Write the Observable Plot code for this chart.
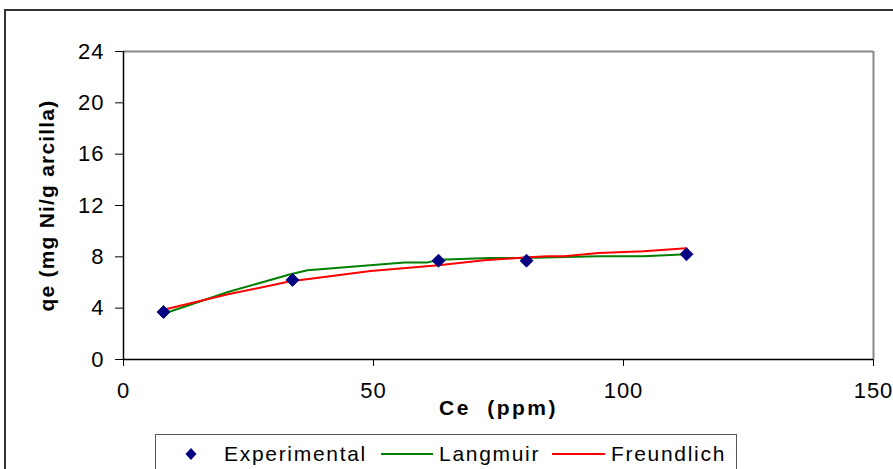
<!DOCTYPE html>
<html>
<head>
<meta charset="utf-8">
<script src="https://cdn.jsdelivr.net/npm/d3@7"></script>
<script src="https://cdn.jsdelivr.net/npm/@observablehq/plot@0.6"></script>
<style>
  html, body { margin: 0; padding: 0; background: #fff; }
  body { width: 893px; height: 469px; overflow: hidden; font-family: "Liberation Sans", Arial, sans-serif; }
  #wrap { position: relative; width: 893px; height: 469px; }
  #frame { position: absolute; left: 4px; top: 9px; width: 900px; height: 480px; border-top: 2px solid #333; border-left: 2px solid #333; }
  #chart { position: absolute; left: 0; top: 0; }
  #chart svg { font-family: "Liberation Sans", Arial, sans-serif; }
  g[aria-label="x-axis tick label"], g[aria-label="y-axis tick label"] { font-size: 22px !important; letter-spacing: 1px; }
  g[aria-label="x-axis tick label"] text, g[aria-label="y-axis tick label"] text { font-size: 22px !important; }
  g[aria-label="x-axis label"] text { font-weight: bold; font-size: 21px !important; letter-spacing: 2.5px; word-spacing: 8px; }
  g[aria-label="y-axis label"] text { font-weight: bold; font-size: 21px !important; letter-spacing: 1.2px; }
  #legend { position: absolute; left: 155px; top: 434px; width: 580px; height: 50px; border: 1px solid #555; background: #fff; }
  .lg { position: absolute; font-size: 21px; letter-spacing: 1.7px; color: #000; top: 7px; line-height: 24px; white-space: nowrap; }
  .sw { position: absolute; top: 18px; height: 2px; }
</style>
</head>
<body>
<div id="wrap">
  <div id="frame"></div>
  <div id="chart"></div>
  <div id="legend">
    <svg style="position:absolute;left:28px;top:12px" width="14" height="14"><path d="M7,1 L12.5,7 L7,13 L1.5,7 Z" fill="#000080"/></svg>
    <span class="lg" style="left:68px">Experimental</span>
    <div class="sw" style="left:225px;width:52px;background:#008000"></div>
    <span class="lg" style="left:283px">Langmuir</span>
    <div class="sw" style="left:396px;width:53px;background:#ff0000"></div>
    <span class="lg" style="left:455px">Freundlich</span>
  </div>
</div>
<script>
// Experimental data
const expCe = [8, 33.8, 63, 80.6, 112.6];
const expQe = [3.7, 6.2, 7.7, 7.7, 8.2];

// Langmuir model curve
const langCe = [8, 20.9, 33.4, 36.8, 56.2, 60.7, 63, 73.3, 80.1, 95, 104, 112.6];
const langQe = [3.57, 5.26, 6.64, 6.95, 7.55, 7.55, 7.78, 7.91, 7.91, 8.04, 8.04, 8.2];

// Freundlich model curve
const freuCe = [8, 20.9, 33.4, 37.4, 49.4, 63, 72.1, 80.1, 84.7, 88.1, 95, 104, 112.6];
const freuQe = [3.88, 5.08, 6.09, 6.3, 6.9, 7.34, 7.73, 7.94, 8.04, 8.04, 8.3, 8.43, 8.67];

const xTicks = [0, 50, 100, 150];
const yTicks = [0, 4, 8, 12, 16, 20, 24];

const exp = expCe.map((x, i) => ({x, y: expQe[i]}));
const lang = langCe.map((x, i) => ({x, y: langQe[i]}));
const freu = freuCe.map((x, i) => ({x, y: freuQe[i]}));

const chart = Plot.plot({
  width: 893,
  height: 430,
  marginTop: 51,
  marginBottom: 71,
  marginLeft: 123,
  marginRight: 20,
  style: {fontSize: "22px", fontFamily: "Liberation Sans, Arial, sans-serif", color: "#000", background: "transparent"},
  x: {domain: [0, 150], ticks: xTicks},
  y: {domain: [0, 24], ticks: yTicks},
  marks: [
    Plot.ruleY([24], {stroke: "#888", strokeWidth: 2}),
    Plot.ruleX([150], {stroke: "#888", strokeWidth: 2}),
    Plot.axisX({ticks: xTicks, tickSize: 7, tickPadding: 16, label: "Ce (ppm)", labelAnchor: "center", labelArrow: "none", labelOffset: 55, stroke: "#000"}),
    Plot.axisY({ticks: yTicks, tickSize: 8, tickPadding: 11, label: "qe (mg Ni/g arcilla)", labelAnchor: "center", labelArrow: "none", labelOffset: 84, stroke: "#000"}),
    Plot.ruleY([0], {stroke: "#000", strokeWidth: 1.5}),
    Plot.ruleX([0], {stroke: "#000", strokeWidth: 1.5}),
    Plot.line(lang, {x: "x", y: "y", stroke: "#008000", strokeWidth: 2}),
    Plot.line(freu, {x: "x", y: "y", stroke: "#ff0000", strokeWidth: 2}),
    Plot.dot(exp, {x: "x", y: "y", symbol: "diamond2", r: 5.8, fill: "#000080", stroke: "#000080", strokeWidth: 1})
  ]
});
document.getElementById("chart").appendChild(chart);
</script>
</body>
</html>
